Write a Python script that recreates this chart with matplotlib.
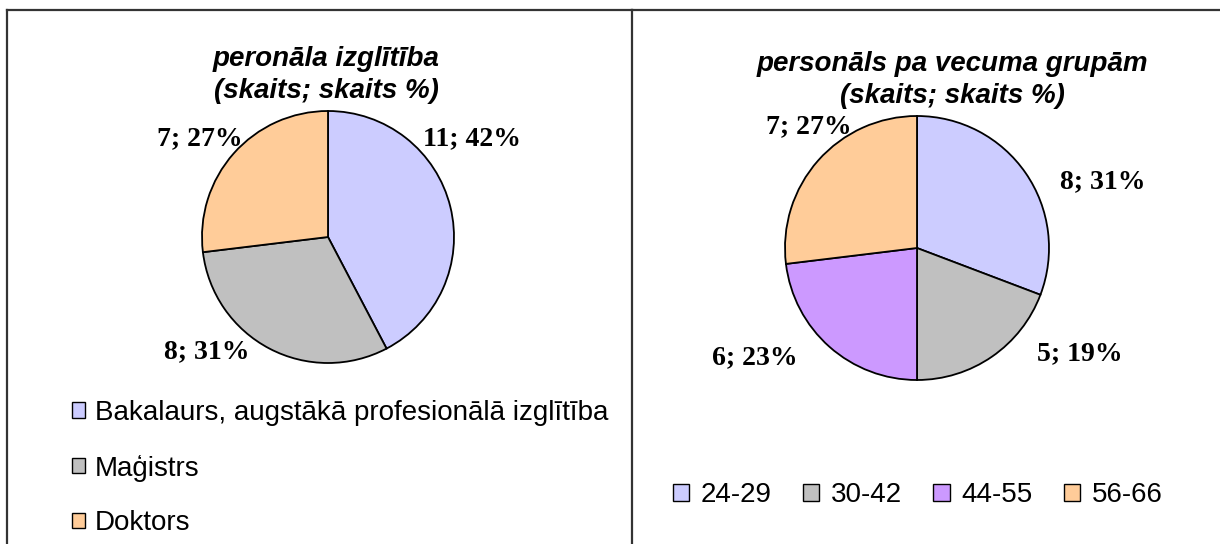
import matplotlib
matplotlib.use("Agg")
import matplotlib.pyplot as plt
from matplotlib.patches import Patch

# ---- data ----
edu_labels = ["Bakalaurs, augstākā profesionālā izglītība", "Maģistrs", "Doktors"]
edu_counts = [11, 8, 7]
edu_pct = [42, 31, 27]
edu_colors = ["#CCCCFF", "#C0C0C0", "#FFCC99"]
edu_title = "peronāla izglītība\n(skaits; skaits %)"

age_labels = ["24-29", "30-42", "44-55", "56-66"]
age_counts = [8, 5, 6, 7]
age_pct = [31, 19, 23, 27]
age_colors = ["#CCCCFF", "#C0C0C0", "#CC99FF", "#FFCC99"]
age_title = "personāls pa vecuma grupām\n(skaits; skaits %)"

# label offsets (in pie radii)
edu_label_pos = [(1.14, 0.78), (-0.96, -0.91), (-1.02, 0.78)]
age_label_pos = [(1.41, 0.50), (1.23, -0.80), (-1.23, -0.83), (-0.82, 0.92)]

W, H = 1220, 544
fig = plt.figure(figsize=(W / 100, H / 100), dpi=100)
fig.patch.set_facecolor("white")

frame_color = "#333333"
FS = 20


def make_axes(x0, y0, x1, y1):
    ax = fig.add_axes([x0 / W, (H - y1) / H, (x1 - x0) / W, (y1 - y0) / H])
    return ax


def finish(ax, x0, y0, x1, y1, cx, cy, R):
    ax.set_xlim((x0 - cx) / R, (x1 - cx) / R)
    ax.set_ylim((cy - y1) / R, (cy - y0) / R)
    ax.set_aspect("auto")
    ax.set_xticks([])
    ax.set_yticks([])
    for s in ax.spines.values():
        s.set_color(frame_color)
        s.set_linewidth(1.6)
    ax.spines["bottom"].set_visible(False)
    ax.spines["right"].set_visible(False)


# left panel
L = (7, 10, 632, 560)
axL = make_axes(*L)
axL.pie(edu_counts, colors=edu_colors, startangle=90, counterclock=False,
        wedgeprops=dict(edgecolor="black", linewidth=1.3), radius=1.0,
        center=(0, 0), frame=True)
finish(axL, *L, 328, 237, 126)
for (x, y), c, p in zip(edu_label_pos, edu_counts, edu_pct):
    axL.text(x, y, f"{c}; {p}%", ha="center", va="center",
             fontfamily="Liberation Serif", fontweight="bold", fontsize=FS)
axL.text((326 - 328) / 126, (237 - 75) / 126, edu_title, ha="center", va="center",
         fontfamily="Liberation Sans", fontweight="bold", fontstyle="italic",
         fontsize=FS, linespacing=1.28)
handlesL = [Patch(facecolor=c, edgecolor="black", linewidth=1.0) for c in edu_colors]
axL.legend(handlesL, edu_labels, loc="upper left",
           bbox_to_anchor=((72 - 7) / 625, (560 - 400) / 550),
           frameon=False, prop=dict(family="Liberation Sans", size=FS),
           handlelength=0.47, handleheight=0.47, handletextpad=0.35,
           labelspacing=1.03, borderaxespad=0, borderpad=0)

# right panel
R_ = (632, 10, 1225, 560)
axR = make_axes(*R_)
axR.pie(age_counts, colors=age_colors, startangle=90, counterclock=False,
        wedgeprops=dict(edgecolor="black", linewidth=1.3), radius=1.0,
        center=(0, 0), frame=True)
finish(axR, *R_, 917, 248, 132)
for (x, y), c, p in zip(age_label_pos, age_counts, age_pct):
    axR.text(x, y, f"{c}; {p}%", ha="center", va="center",
             fontfamily="Liberation Serif", fontweight="bold", fontsize=FS)
axR.text((952 - 917) / 132, (248 - 80) / 132, age_title, ha="center", va="center",
         fontfamily="Liberation Sans", fontweight="bold", fontstyle="italic",
         fontsize=FS, linespacing=1.32)
handlesR = [Patch(facecolor=c, edgecolor="black", linewidth=1.0) for c in age_colors]
axR.legend(handlesR, age_labels, loc="center left", ncol=4,
           bbox_to_anchor=((673 - 632) / 593, (560 - 495) / 550),
           frameon=False, prop=dict(family="Liberation Sans", size=FS),
           handlelength=0.58, handleheight=0.58, handletextpad=0.43,
           columnspacing=1.12, borderaxespad=0, borderpad=0)

fig.savefig("out.png", dpi=100, facecolor="white")
